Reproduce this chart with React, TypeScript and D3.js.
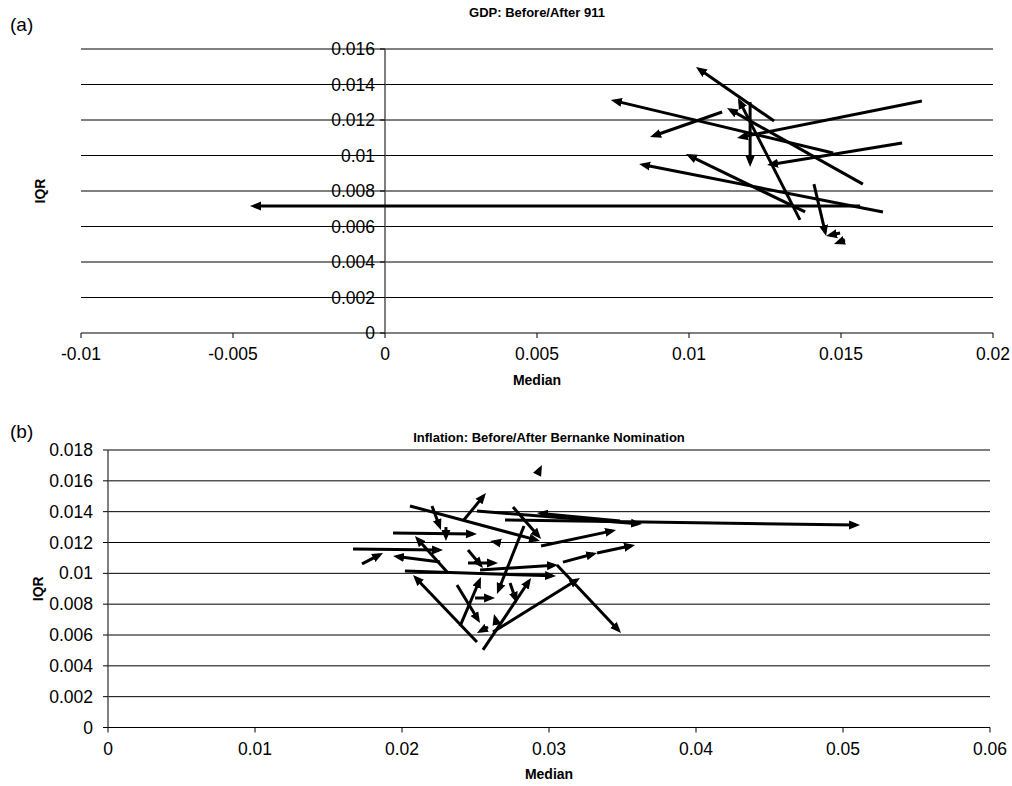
import React from "react";
import * as d3 from "d3";

// GDP panel: each arrow goes from the "before" point to the "after" point
const gdpFromMedian = [0.01563, 0.0128, 0.01474, 0.01109, 0.01365, 0.01201, 0.01766, 0.01701, 0.01572, 0.01382, 0.01638, 0.01411, 0.01497, 0.01513];
const gdpFromIqr = [0.00715, 0.01194, 0.01014, 0.01245, 0.00637, 0.01301, 0.01307, 0.0107, 0.00839, 0.00682, 0.00682, 0.00839, 0.00563, 0.00524];
const gdpToMedian = [-0.00444, 0.01023, 0.00743, 0.00872, 0.01161, 0.01201, 0.01158, 0.01257, 0.01125, 0.0099, 0.00836, 0.01451, 0.01451, 0.01477];
const gdpToIqr = [0.00715, 0.01499, 0.01313, 0.01104, 0.01324, 0.00935, 0.01099, 0.00946, 0.01268, 0.01008, 0.00952, 0.00546, 0.00546, 0.00501];

// Inflation panel
const infFromMedian = [0.02925, 0.02415, 0.02054, 0.02204, 0.02299, 0.01939, 0.02755, 0.0251, 0.02701, 0.03483, 0.02946, 0.0283, 0.02667, 0.02449, 0.02449, 0.02395, 0.02374, 0.0251, 0.02551, 0.02619, 0.03054, 0.02531, 0.0202, 0.03095, 0.03327, 0.02735, 0.02646, 0.02497, 0.01667, 0.01728, 0.02259, 0.02313, 0.02585];
const infFromIqr = [0.01651, 0.01339, 0.01437, 0.01437, 0.013, 0.01262, 0.0143, 0.01404, 0.01346, 0.01339, 0.01177, 0.01307, 0.01197, 0.01151, 0.01067, 0.00658, 0.00924, 0.00555, 0.00503, 0.00619, 0.01054, 0.01022, 0.01015, 0.01073, 0.01132, 0.00937, 0.00665, 0.0084, 0.01158, 0.01061, 0.01073, 0.01002, 0.00652];
const infToMedian = [0.02952, 0.02571, 0.02939, 0.02265, 0.02299, 0.0251, 0.02946, 0.03633, 0.05116, 0.02918, 0.03456, 0.02646, 0.02599, 0.02551, 0.02653, 0.02537, 0.02531, 0.02075, 0.02878, 0.03211, 0.0349, 0.03061, 0.03048, 0.03327, 0.03585, 0.02782, 0.02626, 0.02633, 0.02279, 0.01871, 0.01939, 0.02088, 0.0251];
const infToIqr = [0.01703, 0.01521, 0.0121, 0.01281, 0.0121, 0.01255, 0.01223, 0.0132, 0.01313, 0.01391, 0.01281, 0.00866, 0.0121, 0.01035, 0.01067, 0.00976, 0.00678, 0.00989, 0.0097, 0.0097, 0.00613, 0.01054, 0.00983, 0.01132, 0.01184, 0.00808, 0.00736, 0.0084, 0.01151, 0.01132, 0.01112, 0.01242, 0.00613];

const gdpXTicks = ["-0.01", "-0.005", "0", "0.005", "0.01", "0.015", "0.02"];
const gdpYTicks = ["0", "0.002", "0.004", "0.006", "0.008", "0.01", "0.012", "0.014", "0.016"];
const infXTicks = ["0", "0.01", "0.02", "0.03", "0.04", "0.05", "0.06"];
const infYTicks = ["0", "0.002", "0.004", "0.006", "0.008", "0.01", "0.012", "0.014", "0.016", "0.018"];

const font = "Liberation Sans, Arial, sans-serif";

function Panel({ tag, title, xTicks, yTicks, x, y, yAxisAt, fromX, fromY, toX, toY, tagY, titleY, iqrX, medianY, yLabelGap }) {
  const [x0, x1] = x.range();
  const [yb, yt] = y.range();
  const ax = x(yAxisAt);
  const arrows = d3.range(fromX.length).map((i) => {
    const sx = x(fromX[i]), sy = y(fromY[i]);
    const ex = x(toX[i]), ey = y(toY[i]);
    const len = Math.hypot(ex - sx, ey - sy);
    const k = len > 0 ? Math.max(0, (len - 4) / len) : 0;
    return { sx, sy, ex: sx + (ex - sx) * k, ey: sy + (ey - sy) * k };
  });
  return (
    <g>
      <text x={10} y={tagY} fontSize={19} fontFamily={font}>{tag}</text>
      <text x={(x0 + x1) / 2} y={titleY} fontSize={13} fontWeight="bold" fontFamily={font} textAnchor="middle">{title}</text>
      {yTicks.map((t) => (
        <line key={"g" + t} x1={x0} x2={x1} y1={y(+t)} y2={y(+t)} stroke="#000" strokeWidth={1} />
      ))}
      <line x1={ax} x2={ax} y1={yb} y2={yt} stroke="#555" strokeWidth={1.5} />
      {yTicks.map((t) => (
        <g key={"y" + t}>
          <line x1={ax - 5} x2={ax} y1={y(+t)} y2={y(+t)} stroke="#000" />
          <text x={ax - yLabelGap} y={y(+t)} dy="0.35em" fontSize={17.5} fontFamily={font} textAnchor="end">{t}</text>
        </g>
      ))}
      {xTicks.map((t) => (
        <g key={"x" + t}>
          <line x1={x(+t)} x2={x(+t)} y1={yb} y2={yb + 5} stroke="#000" />
          <text x={x(+t)} y={yb + 27} fontSize={17.5} fontFamily={font} textAnchor="middle">{t}</text>
        </g>
      ))}
      <text transform={`translate(${iqrX},${(yb + yt) / 2}) rotate(-90)`} fontSize={14} fontWeight="bold" fontFamily={font} textAnchor="middle" dy="0.35em">IQR</text>
      <text x={(x0 + x1) / 2} y={medianY} fontSize={14} fontWeight="bold" fontFamily={font} textAnchor="middle">Median</text>
      {arrows.map((a, i) => (
        <line key={"a" + i} x1={a.sx} y1={a.sy} x2={a.ex} y2={a.ey} stroke="#000" strokeWidth={3} markerEnd="url(#head)" />
      ))}
    </g>
  );
}

export default function App() {
  const gx = d3.scaleLinear().domain([-0.01, 0.02]).range([81, 993]);
  const gy = d3.scaleLinear().domain([0, 0.016]).range([333, 49]);
  const ix = d3.scaleLinear().domain([0, 0.06]).range([108, 990]);
  const iy = d3.scaleLinear().domain([0, 0.018]).range([727.5, 450]);
  return (
    <svg width={1012} height={786} style={{ position: "absolute", left: 0, top: 0, background: "#fff" }}>
      <defs>
        <marker id="head" markerUnits="userSpaceOnUse" markerWidth={12} markerHeight={10} refX={7} refY={5} orient="auto" viewBox="0 0 12 10">
          <path d="M0,0.5 L11,5 L0,9.5 Z" fill="#000" />
        </marker>
      </defs>
      <Panel tag="(a)" title="GDP: Before/After 911" xTicks={gdpXTicks} yTicks={gdpYTicks} x={gx} y={gy} yAxisAt={0}
        fromX={gdpFromMedian} fromY={gdpFromIqr} toX={gdpToMedian} toY={gdpToIqr}
        tagY={31} titleY={17} iqrX={40} medianY={385} yLabelGap={10} />
      <Panel tag="(b)" title="Inflation: Before/After Bernanke Nomination" xTicks={infXTicks} yTicks={infYTicks} x={ix} y={iy} yAxisAt={0}
        fromX={infFromMedian} fromY={infFromIqr} toX={infToMedian} toY={infToIqr}
        tagY={438} titleY={442} iqrX={38} medianY={779} yLabelGap={15} />
    </svg>
  );
}
